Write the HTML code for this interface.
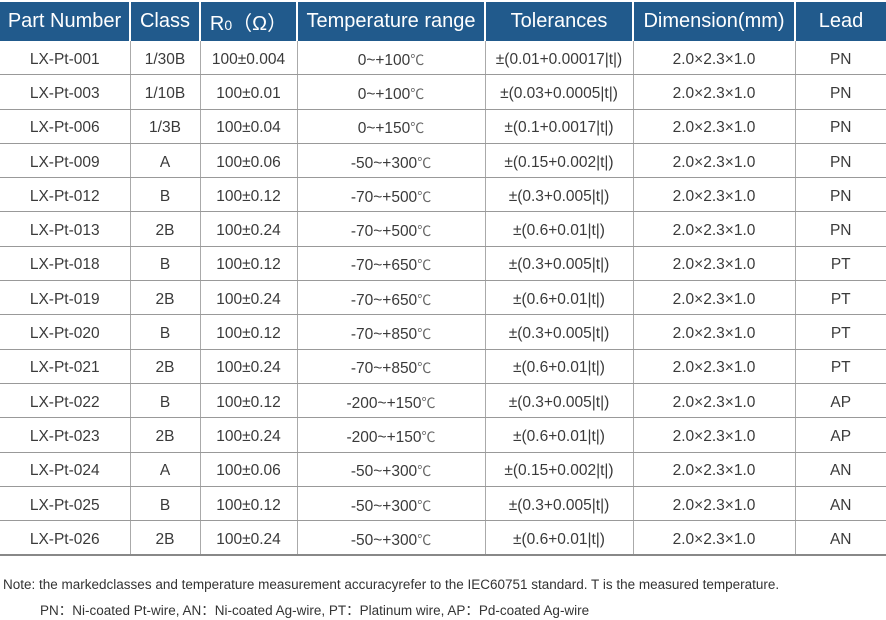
<!DOCTYPE html>
<html><head><meta charset="utf-8"><style>
body{margin:0;width:886px;height:620px;background:#fff;overflow:hidden;font-family:"Liberation Sans","Noto Sans CJK SC",sans-serif;color:#3a3a3a;position:relative}
table{position:absolute;left:0;top:2px;border-collapse:collapse;table-layout:fixed;width:886px}
th{background:#215a8c;color:#fff;font-weight:normal;font-size:20px;height:39px;padding:0;border-left:2px solid #fff;white-space:nowrap}
th:first-child{border-left:none}
td{height:29.3px;padding:4px 0 0 0;text-align:center;font-size:15.5px;border-bottom:1px solid #999;border-left:1px solid #aaa;white-space:nowrap}
td:first-child{border-left:none}
tr:last-child td{border-bottom:2px solid #888}
.c{font-size:14px;color:#666}
.n{position:absolute;left:3px;font-size:13.5px;color:#333;white-space:nowrap}
</style></head><body>
<table>
<colgroup><col style="width:130px"><col style="width:70px"><col style="width:97px"><col style="width:188px"><col style="width:148px"><col style="width:162px"><col style="width:91px"></colgroup>
<tr><th>Part Number</th><th>Class</th><th>R<span style="font-size:14px">0</span>（Ω）</th><th>Temperature range</th><th>Tolerances</th><th>Dimension(mm)</th><th>Lead</th></tr>
<tr><td>LX-Pt-001</td><td>1/30B</td><td>100±0.004</td><td>0~+100<span class="c">℃</span></td><td>±(0.01+0.00017|t|)</td><td>2.0×2.3×1.0</td><td>PN</td></tr>
<tr><td>LX-Pt-003</td><td>1/10B</td><td>100±0.01</td><td>0~+100<span class="c">℃</span></td><td>±(0.03+0.0005|t|)</td><td>2.0×2.3×1.0</td><td>PN</td></tr>
<tr><td>LX-Pt-006</td><td>1/3B</td><td>100±0.04</td><td>0~+150<span class="c">℃</span></td><td>±(0.1+0.0017|t|)</td><td>2.0×2.3×1.0</td><td>PN</td></tr>
<tr><td>LX-Pt-009</td><td>A</td><td>100±0.06</td><td>-50~+300<span class="c">℃</span></td><td>±(0.15+0.002|t|)</td><td>2.0×2.3×1.0</td><td>PN</td></tr>
<tr><td>LX-Pt-012</td><td>B</td><td>100±0.12</td><td>-70~+500<span class="c">℃</span></td><td>±(0.3+0.005|t|)</td><td>2.0×2.3×1.0</td><td>PN</td></tr>
<tr><td>LX-Pt-013</td><td>2B</td><td>100±0.24</td><td>-70~+500<span class="c">℃</span></td><td>±(0.6+0.01|t|)</td><td>2.0×2.3×1.0</td><td>PN</td></tr>
<tr><td>LX-Pt-018</td><td>B</td><td>100±0.12</td><td>-70~+650<span class="c">℃</span></td><td>±(0.3+0.005|t|)</td><td>2.0×2.3×1.0</td><td>PT</td></tr>
<tr><td>LX-Pt-019</td><td>2B</td><td>100±0.24</td><td>-70~+650<span class="c">℃</span></td><td>±(0.6+0.01|t|)</td><td>2.0×2.3×1.0</td><td>PT</td></tr>
<tr><td>LX-Pt-020</td><td>B</td><td>100±0.12</td><td>-70~+850<span class="c">℃</span></td><td>±(0.3+0.005|t|)</td><td>2.0×2.3×1.0</td><td>PT</td></tr>
<tr><td>LX-Pt-021</td><td>2B</td><td>100±0.24</td><td>-70~+850<span class="c">℃</span></td><td>±(0.6+0.01|t|)</td><td>2.0×2.3×1.0</td><td>PT</td></tr>
<tr><td>LX-Pt-022</td><td>B</td><td>100±0.12</td><td>-200~+150<span class="c">℃</span></td><td>±(0.3+0.005|t|)</td><td>2.0×2.3×1.0</td><td>AP</td></tr>
<tr><td>LX-Pt-023</td><td>2B</td><td>100±0.24</td><td>-200~+150<span class="c">℃</span></td><td>±(0.6+0.01|t|)</td><td>2.0×2.3×1.0</td><td>AP</td></tr>
<tr><td>LX-Pt-024</td><td>A</td><td>100±0.06</td><td>-50~+300<span class="c">℃</span></td><td>±(0.15+0.002|t|)</td><td>2.0×2.3×1.0</td><td>AN</td></tr>
<tr><td>LX-Pt-025</td><td>B</td><td>100±0.12</td><td>-50~+300<span class="c">℃</span></td><td>±(0.3+0.005|t|)</td><td>2.0×2.3×1.0</td><td>AN</td></tr>
<tr><td>LX-Pt-026</td><td>2B</td><td>100±0.24</td><td>-50~+300<span class="c">℃</span></td><td>±(0.6+0.01|t|)</td><td>2.0×2.3×1.0</td><td>AN</td></tr>
</table>
<div class="n" style="top:577px">Note: the markedclasses and temperature measurement accuracyrefer to the IEC60751 standard. T is the measured temperature.</div>
<div class="n" style="top:599px;left:40px">PN：Ni-coated Pt-wire, AN：Ni-coated Ag-wire, PT：Platinum wire, AP：Pd-coated Ag-wire</div>
</body></html>
